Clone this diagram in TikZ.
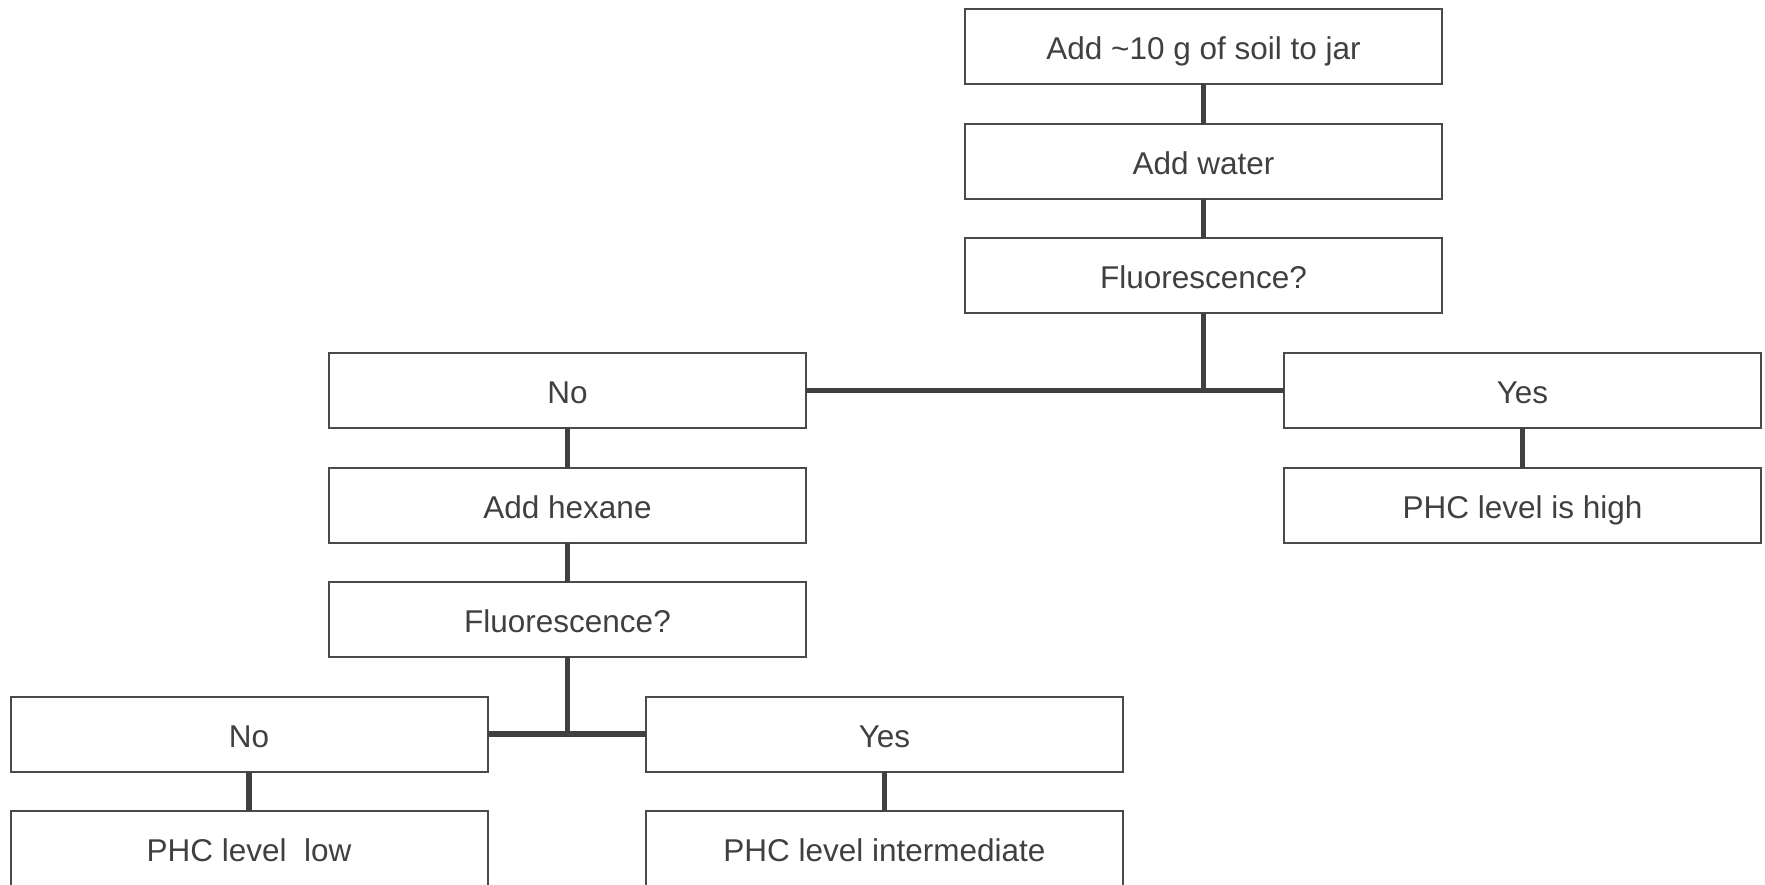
\documentclass[tikz,border=0pt]{standalone}
\usepackage{fontspec}
\setmainfont{Liberation Sans}
\usetikzlibrary{positioning}
\definecolor{boxgray}{HTML}{4A4A4A}
\definecolor{linkgray}{HTML}{404040}
\tikzset{
  stepbox/.style={draw=boxgray, line width=2pt, minimum width=477pt, minimum height=75pt,
                  outer sep=0pt, text=linkgray, text height=28.5pt, text depth=2.5pt,
                  font=\fontsize{31.5}{36}\selectfont},
  link/.style={draw=linkgray, line width=5.5pt}
}

\begin{document}
\begin{tikzpicture}[x=1pt, y=1pt, node distance=39.5pt]
   \useasboundingbox (0,0) rectangle (1765,-885);
   \node[stepbox] (soil) at (1203.5,-47) {Add \textasciitilde10 g of soil to jar};
   \node[stepbox] (water) [below=of soil] {Add water};
   \node[stepbox] (fluorA) [below=of water] {Fluorescence?};
   \node[stepbox] (noA) [below=of fluorA, xshift=-636pt] {No};
   \node[stepbox] (yesA) [below=of fluorA, xshift=319pt] {Yes};
   \node[stepbox] (high) [below=of yesA] {PHC level is high};
   \node[stepbox] (hexane) [below=of noA] {Add hexane};
   \node[stepbox] (fluorB) [below=of hexane] {Fluorescence?};
   \node[stepbox] (noB) [below=of fluorB, xshift=-318.5pt] {No};
   \node[stepbox] (yesB) [below=of fluorB, xshift=317pt] {Yes};
   \node[stepbox] (low) [below=of noB] {PHC level\ \ low};
   \node[stepbox] (inter) [below=of yesB] {PHC level intermediate};

   \coordinate (forkA) at (fluorA.south |- noA.east);
   \coordinate (forkB) at (fluorB.south |- noB.east);

   \path[link]
    (soil)   -- (water)
    (water)  -- (fluorA)
    (fluorA) -- (forkA)
    (noA)    -- (yesA)
    (yesA)   -- (high)
    (noA)    -- (hexane)
    (hexane) -- (fluorB)
    (fluorB) -- (forkB)
    (noB)    -- (yesB)
    (noB)    -- (low)
    (yesB)   -- (inter);
\end{tikzpicture}
\end{document}
